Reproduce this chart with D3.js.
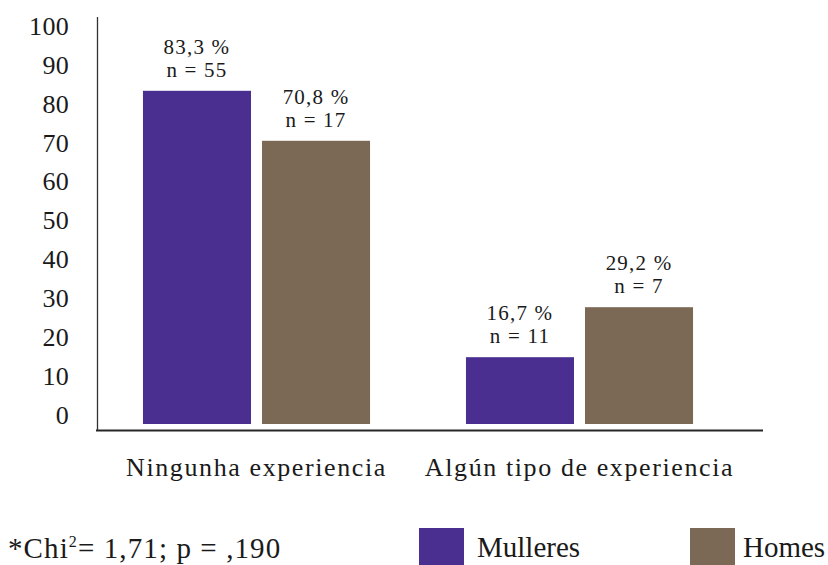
<!DOCTYPE html>
<html>
<head>
<meta charset="utf-8">
<script src="https://cdn.jsdelivr.net/npm/d3@7"></script>
</head>
<body style="margin:0">
<svg id="fig" width="828" height="565"></svg>
<script>
// Experience categories, groups and percentages
const categories = ["Ningunha experiencia", "Algún tipo de experiencia"];
const groups = ["Mulleres", "Homes"];
const mulleresPct = [83.3, 16.7];
const homesPct = [70.8, 29.2];
const mulleresN = [55, 11];
const homesN = [17, 7];
const yTicks = [0, 10, 20, 30, 40, 50, 60, 70, 80, 90, 100];
const footnote = { pre: "*Chi", sup: "2", post: "= 1,71; p = ,190" };

const FONT = "'Liberation Serif', Tinos, 'Times New Roman', serif";
const INK = "#1a1a1a";
const colors = { Mulleres: "#4a2f90", Homes: "#7b6955" };
const fmt = v => v.toFixed(1).replace(".", ",") + " %";

const rows = categories.map((c, i) => ({
  category: c,
  values: [
    { group: "Mulleres", pct: mulleresPct[i], n: mulleresN[i] },
    { group: "Homes", pct: homesPct[i], n: homesN[i] }
  ]
}));

const svg = d3.select("#fig");

// Scales
const y = d3.scaleLinear().domain([0, 100]).range([424, 24]);
const yLabel = d3.scaleLinear().domain([0, 100]).range([415, 26]);
const x0 = d3.scaleBand().domain(categories).range([95, 741])
  .paddingInner(0.297).paddingOuter(0.1485);
const x1 = d3.scaleBand().domain(groups).range([0, x0.bandwidth()])
  .paddingInner(0.0924).paddingOuter(0);

// Y tick labels (no tick marks, no domain line)
const yAxis = d3.axisLeft(yLabel).tickValues(yTicks).tickSize(0).tickPadding(0)
  .tickFormat(d3.format("d"));
svg.append("g")
  .attr("transform", "translate(69,0)")
  .call(yAxis)
  .call(g => g.select(".domain").remove())
  .call(g => g.attr("font-family", null).attr("font-size", null))
  .call(g => g.selectAll("text")
    .attr("font-size", 26)
    .attr("letter-spacing", 0.3)
    .attr("fill", INK));

// Bars
const grp = svg.append("g").selectAll("g")
  .data(rows).join("g")
  .attr("transform", d => `translate(${x0(d.category)},0)`);

grp.selectAll("rect")
  .data(d => d.values).join("rect")
  .attr("x", d => x1(d.group))
  .attr("y", d => y(d.pct))
  .attr("width", x1.bandwidth())
  .attr("height", d => y(0) - y(d.pct))
  .attr("fill", d => colors[d.group]);

// Value labels above bars
const lbl = grp.selectAll("g.lbl")
  .data(d => d.values).join("g").attr("class", "lbl");
lbl.append("text")
  .attr("x", d => x1(d.group) + x1.bandwidth() / 2)
  .attr("y", d => y(d.pct) - 37)
  .attr("text-anchor", "middle")
  .attr("font-size", 21)
  .attr("letter-spacing", 1.2)
  .attr("fill", INK)
  .text(d => fmt(d.pct));
lbl.append("text")
  .attr("x", d => x1(d.group) + x1.bandwidth() / 2)
  .attr("y", d => y(d.pct) - 14)
  .attr("text-anchor", "middle")
  .attr("font-size", 21)
  .attr("letter-spacing", 1.2)
  .attr("fill", INK)
  .text(d => "n = " + d.n);

// Axis lines
svg.append("line")
  .attr("x1", 97.5).attr("x2", 97.5).attr("y1", 17).attr("y2", 431)
  .attr("stroke", "#333").attr("stroke-width", 1.3);
svg.append("line")
  .attr("x1", 96).attr("x2", 763).attr("y1", 430.5).attr("y2", 430.5)
  .attr("stroke", "#262626").attr("stroke-width", 1.8);

// Category labels
svg.append("g").selectAll("text")
  .data(categories).join("text")
  .attr("x", d => x0(d) + x0.bandwidth() / 2)
  .attr("y", 476)
  .attr("text-anchor", "middle")
  .attr("font-size", 26)
  .attr("letter-spacing", 1.6)
  .attr("fill", INK)
  .text(d => d);

// Footnote
const fn = svg.append("text")
  .attr("x", 8).attr("y", 558)
  .attr("font-size", 29)
  .attr("letter-spacing", 1.1)
  .attr("fill", INK);
fn.append("tspan").text(footnote.pre);
fn.append("tspan").attr("font-size", 16).attr("dy", -11).text(footnote.sup);
fn.append("tspan").attr("dy", 11).text(footnote.post);

// Legend
const legendX = [419, 690];
const leg = svg.append("g").selectAll("g")
  .data(groups).join("g")
  .attr("transform", (d, i) => `translate(${legendX[i]},528)`);
leg.append("rect")
  .attr("width", 45).attr("height", 40)
  .attr("fill", d => colors[d]);
leg.append("text")
  .attr("x", (d, i) => i === 0 ? 58 : 53)
  .attr("y", 29)
  .attr("font-size", 29)
  .attr("fill", INK)
  .text(d => d);

// One serif face for every label
svg.selectAll("text, tspan").style("font-family", FONT, "important");
</script>
</body>
</html>
